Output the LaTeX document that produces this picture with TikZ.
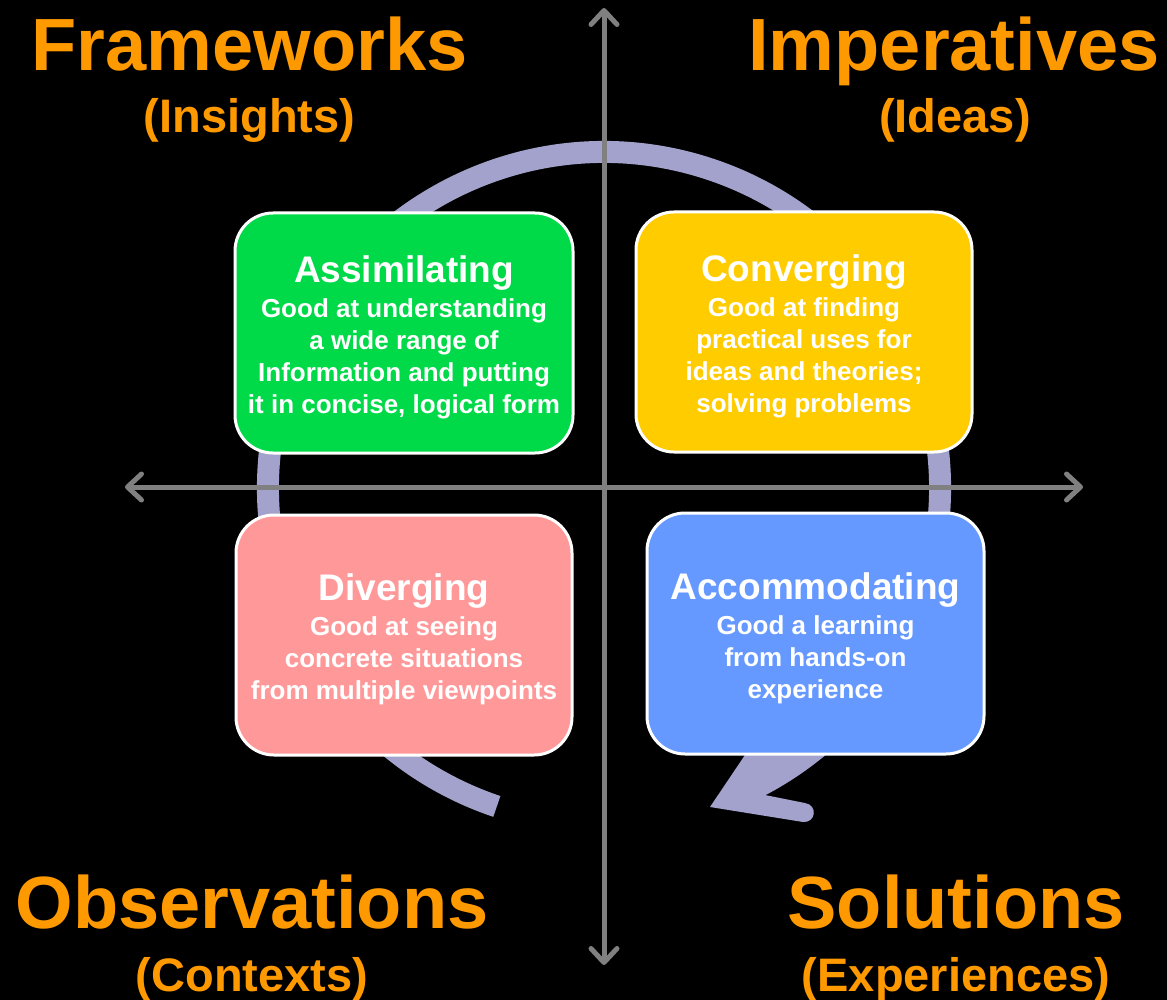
\documentclass[tikz,border=0pt]{standalone}
\usepackage{fontspec}
\setmainfont{Liberation Sans}
\usetikzlibrary{arrows.meta}
\definecolor{orng}{RGB}{255,153,0}
\definecolor{axisgray}{RGB}{128,128,128}
\definecolor{ringc}{RGB}{162,162,204}
\definecolor{boxgreen}{RGB}{0,217,72}
\definecolor{boxyellow}{RGB}{255,204,0}
\definecolor{boxpink}{RGB}{255,153,153}
\definecolor{boxblue}{RGB}{102,153,255}
\begin{document}
\begin{tikzpicture}[x=1pt,y=1pt,
  lbl/.style={text=orng, font=\bfseries\fontsize{74}{80}\selectfont, anchor=base, inner sep=0pt},
  sublbl/.style={text=orng, font=\bfseries\fontsize{47}{50}\selectfont, anchor=base, inner sep=0pt},
  box/.style={draw=white, line width=3pt, rounded corners=38pt, minimum width=338pt, minimum height=240pt,
    text=white, align=center, inner sep=0pt, font=\bfseries\fontsize{26}{32}\selectfont},
  axisline/.style={draw=axisgray, line width=5pt,
    {Straight Barb[length=14pt,width=26pt,round]}-{Straight Barb[length=14pt,width=26pt,round]}},
  ring/.style={line width=22pt, draw=ringc},
]
\newcommand{\boxtitle}[1]{{\fontsize{37}{32}\selectfont\rule{0pt}{36pt}#1}\\[3pt]}
\useasboundingbox (0,0) rectangle (1167,-1000);
\fill[black] (0,0) rectangle (1167,-1000);

% cycle ring
\coordinate (ctr) at (604,-488);
\draw[ring] ([shift={(251.4:336)}]ctr) arc[start angle=251.4, end angle=-64, radius=336];
\fill[ringc] (710,-807) -- (747,-752) -- (822,-752) -- (765,-795) -- (805,-803)
  .. controls (818,-805) and (816,-823) .. (803,-822) -- cycle;

% axes
\coordinate (hl) at (125,-487);
\coordinate (hr) at (1083,-487);
\coordinate (vt) at (604,-8);
\coordinate (vb) at (604,-965);
\draw[axisline] (hl) -- (hr);
\draw[axisline] (vb) -- (vt);

% boxes
\node[box, fill=boxgreen] (assim) at (404,-333)
  {\boxtitle{Assimilating}Good at understanding\\a wide range of\\Information and putting\\it in concise, logical form};
\node[box, fill=boxyellow, minimum width=336pt] (conv) at (804,-332)
  {\boxtitle{Converging}Good at finding\\practical uses for\\ideas and theories;\\solving problems};
\node[box, fill=boxpink, minimum width=336pt] (div) at (404,-635)
  {\boxtitle{Diverging}Good at seeing\\concrete situations\\from multiple viewpoints};
\node[box, fill=boxblue, minimum width=337pt, minimum height=241pt] (acc) at (815.5,-633.5)
  {\boxtitle{Accommodating}Good a learning\\from hands-on\\experience};

% quadrant labels
\node[lbl] (fw) at (249.5,-71) {Frameworks};
\node[sublbl] (ins) at (249.5,-133) {(Insights)};
\node[lbl] (imp) at (954,-71) {Imperatives};
\node[sublbl] (ide) at (955,-133) {(Ideas)};
\node[lbl] (obs) at (252,-928) {Observations};
\node[sublbl] (ctx) at (252,-991) {(Contexts)};
\node[lbl] (sol) at (956,-928) {Solutions};
\node[sublbl] (exp) at (956,-991) {(Experiences)};
\end{tikzpicture}
\end{document}
